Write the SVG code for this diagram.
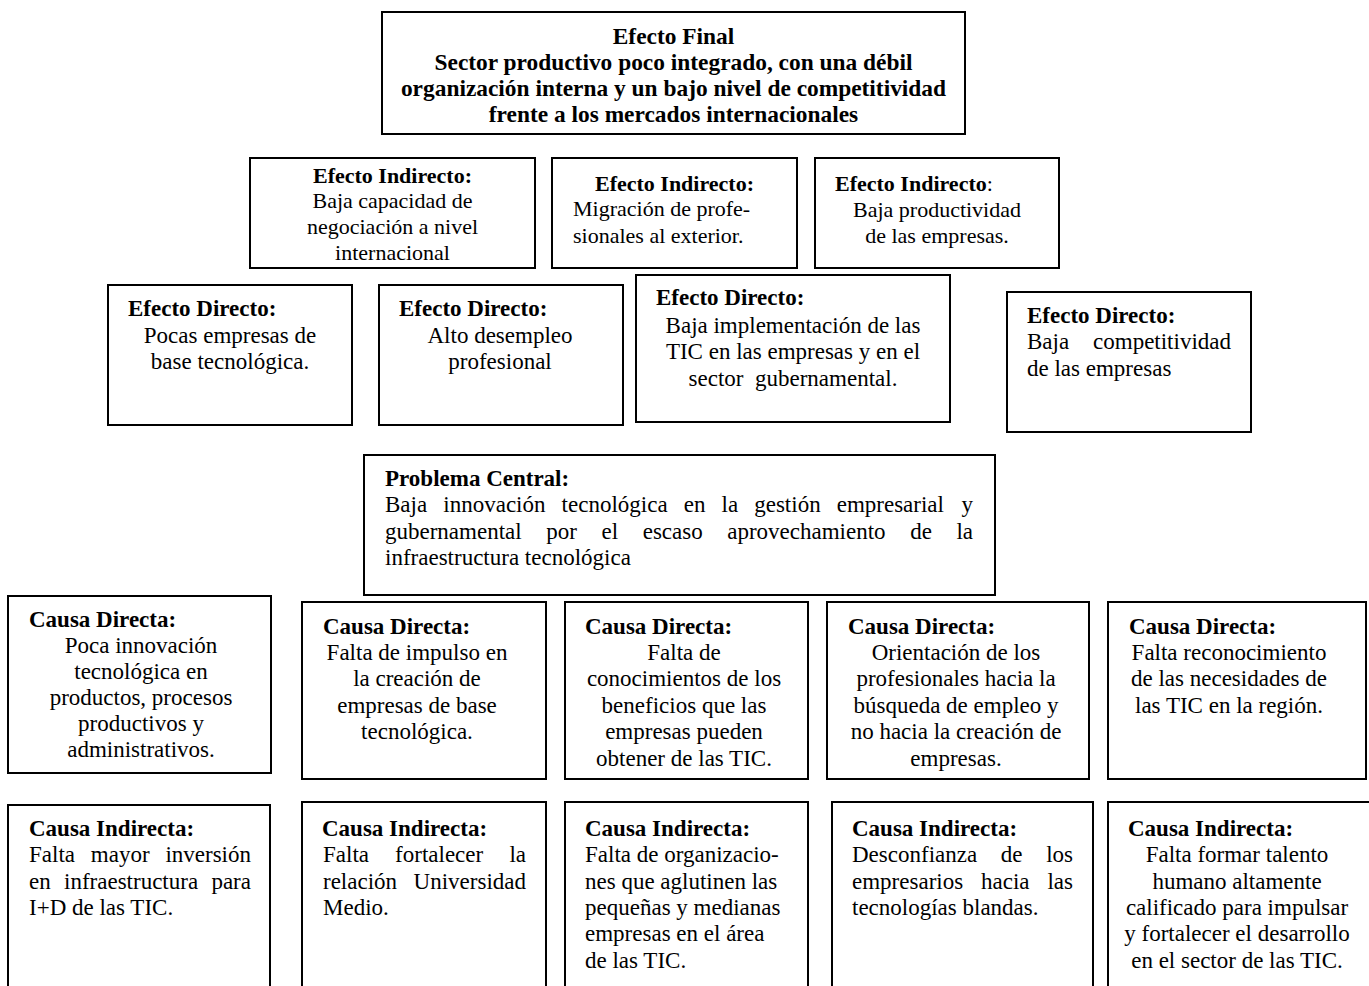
<svg xmlns="http://www.w3.org/2000/svg" width="1369" height="986" viewBox="0 0 1369 986">
<style>
.box{fill:#fff;stroke:#000;stroke-width:2}
text{font-family:"Liberation Serif","Times New Roman",serif;font-size:23px;fill:#000}
.b{font-weight:bold}
.c{text-anchor:middle}
.e{text-anchor:end}
.s{font-size:22px}
.f{font-size:23.4px}
</style>
<rect width="1369" height="986" fill="#fff"/>
<g id="connectors"></g>

<g id="efecto-final">
<rect class="box" x="382" y="12" width="583" height="122"/>
<text class="b c f" x="673.5" y="44">Efecto Final</text>
<text class="b c f" x="673.5" y="70">Sector productivo poco integrado, con una débil</text>
<text class="b c f" x="673.5" y="96">organización interna y un bajo nivel de competitividad</text>
<text class="b c f" x="673.5" y="122">frente a los mercados internacionales</text>
</g>

<g id="efecto-indirecto-1">
<rect class="box" x="250" y="158" width="285" height="110"/>
<text class="s b c" x="392.5" y="183">Efecto Indirecto:</text>
<text class="s c" x="392.5" y="208">Baja capacidad de</text>
<text class="s c" x="392.5" y="234">negociación a nivel</text>
<text class="s c" x="392.5" y="260">internacional</text>
</g>

<g id="efecto-indirecto-2">
<rect class="box" x="552" y="158" width="245" height="110"/>
<text class="s b c" x="674.5" y="191">Efecto Indirecto:</text>
<text class="s" x="573" y="216">Migración de profe-</text>
<text class="s" x="573" y="243">sionales al exterior.</text>
</g>

<g id="efecto-indirecto-3">
<rect class="box" x="815" y="158" width="244" height="110"/>
<text class="s" x="835" y="191"><tspan class="b">Efecto Indirecto</tspan>:</text>
<text class="s c" x="937" y="217">Baja productividad</text>
<text class="s c" x="937" y="243">de las empresas.</text>
</g>

<g id="efecto-directo-1">
<rect class="box" x="108" y="285" width="244" height="140"/>
<text class="b" x="128" y="316">Efecto Directo:</text>
<text class="c" x="230" y="343">Pocas empresas de</text>
<text class="c" x="230" y="369">base tecnológica.</text>
</g>

<g id="efecto-directo-2">
<rect class="box" x="379" y="285" width="244" height="140"/>
<text class="b" x="399" y="316">Efecto Directo:</text>
<text class="c" x="500" y="343">Alto desempleo</text>
<text class="c" x="500" y="369">profesional</text>
</g>

<g id="efecto-directo-3">
<rect class="box" x="636" y="275" width="314" height="147"/>
<text class="b" x="656" y="305">Efecto Directo:</text>
<text class="c" x="793" y="333">Baja implementación de las</text>
<text class="c" x="793" y="359">TIC en las empresas y en el</text>
<text class="c" x="793" y="386" xml:space="preserve">sector  gubernamental.</text>
</g>

<g id="efecto-directo-4">
<rect class="box" x="1007" y="292" width="244" height="140"/>
<text class="b" x="1027" y="323">Efecto Directo:</text>
<text x="1027" y="349">Baja</text>
<text class="e" x="1231" y="349">competitividad</text>
<text x="1027" y="376">de las empresas</text>
</g>

<g id="problema-central">
<rect class="box" x="364" y="455" width="631" height="140"/>
<text class="b" x="385" y="486">Problema Central:</text>
<text y="512"><tspan x="385">Baja</tspan><tspan x="443.3">innovación</tspan><tspan x="561.6">tecnológica</tspan><tspan x="683.7">en</tspan><tspan x="721.5">la</tspan><tspan x="754.2">gestión</tspan><tspan x="836.7">empresarial</tspan><tspan x="961.5">y</tspan></text>
<text y="539"><tspan x="385">gubernamental</tspan><tspan x="546.3">por</tspan><tspan x="601.5">el</tspan><tspan x="642.7">escaso</tspan><tspan x="727.2">aprovechamiento</tspan><tspan x="910.2">de</tspan><tspan x="956.4">la</tspan></text>
<text x="385" y="565">infraestructura tecnológica</text>
</g>

<g id="causa-directa-1">
<rect class="box" x="8" y="596" width="263" height="177"/>
<text class="b" x="29" y="627">Causa Directa:</text>
<text class="c" x="141" y="653">Poca innovación</text>
<text class="c" x="141" y="679">tecnológica en</text>
<text class="c" x="141" y="705">productos, procesos</text>
<text class="c" x="141" y="731">productivos y</text>
<text class="c" x="141" y="757">administrativos.</text>
</g>

<g id="causa-directa-2">
<rect class="box" x="302" y="602" width="244" height="177"/>
<text class="b" x="323" y="634">Causa Directa:</text>
<text class="c" x="417" y="660">Falta de impulso en</text>
<text class="c" x="417" y="686">la creación de</text>
<text class="c" x="417" y="713">empresas de base</text>
<text class="c" x="417" y="739">tecnológica.</text>
</g>

<g id="causa-directa-3">
<rect class="box" x="565" y="602" width="243" height="177"/>
<text class="b" x="585" y="634">Causa Directa:</text>
<text class="c" x="684" y="660">Falta de</text>
<text class="c" x="684" y="686">conocimientos de los</text>
<text class="c" x="684" y="713">beneficios que las</text>
<text class="c" x="684" y="739">empresas pueden</text>
<text class="c" x="684" y="766">obtener de las TIC.</text>
</g>

<g id="causa-directa-4">
<rect class="box" x="827" y="602" width="262" height="177"/>
<text class="b" x="848" y="634">Causa Directa:</text>
<text class="c" x="956" y="660">Orientación de los</text>
<text class="c" x="956" y="686">profesionales hacia la</text>
<text class="c" x="956" y="713">búsqueda de empleo y</text>
<text class="c" x="956" y="739">no hacia la creación de</text>
<text class="c" x="956" y="766">empresas.</text>
</g>

<g id="causa-directa-5">
<rect class="box" x="1108" y="602" width="258" height="177"/>
<text class="b" x="1129" y="634">Causa Directa:</text>
<text class="c" x="1229" y="660">Falta reconocimiento</text>
<text class="c" x="1229" y="686">de las necesidades de</text>
<text class="c" x="1229" y="713">las TIC en la región.</text>
</g>

<g id="causa-indirecta-1">
<rect class="box" x="8" y="805" width="262" height="195"/>
<text class="b" x="29" y="836">Causa Indirecta:</text>
<text y="862"><tspan x="29">Falta</tspan><tspan x="90.8">mayor</tspan><tspan x="165.4">inversión</tspan></text>
<text y="889"><tspan x="29">en</tspan><tspan x="64">infraestructura</tspan><tspan x="211.4">para</tspan></text>
<text x="29" y="915">I+D de las TIC.</text>
</g>

<g id="causa-indirecta-2">
<rect class="box" x="302" y="802" width="244" height="198"/>
<text class="b" x="322" y="836">Causa Indirecta:</text>
<text y="862"><tspan x="323">Falta</tspan><tspan x="395.1">fortalecer</tspan><tspan x="509.4">la</tspan></text>
<text x="323" y="889">relación</text>
<text class="e" x="526" y="889">Universidad</text>
<text x="323" y="915">Medio.</text>
</g>

<g id="causa-indirecta-3">
<rect class="box" x="565" y="802" width="243" height="198"/>
<text class="b" x="585" y="836">Causa Indirecta:</text>
<text x="585" y="862">Falta de organizacio-</text>
<text x="585" y="889">nes que aglutinen las</text>
<text x="585" y="915">pequeñas y medianas</text>
<text x="585" y="941">empresas en el área</text>
<text x="585" y="968">de las TIC.</text>
</g>

<g id="causa-indirecta-4">
<rect class="box" x="832" y="802" width="261" height="198"/>
<text class="b" x="852" y="836">Causa Indirecta:</text>
<text y="862"><tspan x="852">Desconfianza</tspan><tspan x="1000.8">de</tspan></text>
<text class="e" x="1073" y="862">los</text>
<text y="889"><tspan x="852">empresarios</tspan><tspan x="981">hacia</tspan></text>
<text class="e" x="1073" y="889">las</text>
<text x="852" y="915">tecnologías blandas.</text>
</g>

<g id="causa-indirecta-5">
<rect class="box" x="1108" y="802" width="275" height="198"/>
<text class="b" x="1128" y="836">Causa Indirecta:</text>
<text class="c" x="1237" y="862">Falta formar talento</text>
<text class="c" x="1237" y="889">humano altamente</text>
<text class="c" x="1237" y="915">calificado para impulsar</text>
<text class="c" x="1237" y="941">y fortalecer el desarrollo</text>
<text class="c" x="1237" y="968">en el sector de las TIC.</text>
</g>
</svg>
